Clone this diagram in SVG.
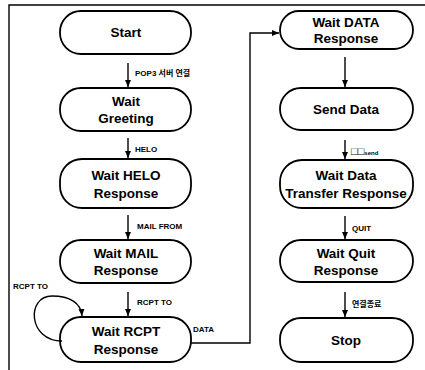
<svg xmlns="http://www.w3.org/2000/svg" width="425" height="370" viewBox="0 0 425 370">
<defs>
<marker id="ah" markerWidth="8" markerHeight="8" refX="7" refY="4" orient="auto" markerUnits="userSpaceOnUse">
<path d="M0,1 L7,4 L0,7 Z" fill="#000"/>
</marker>
<style>
.box{fill:#fff;stroke:#000;stroke-width:1.8}
.t{font-family:"Liberation Sans",Arial,sans-serif;font-weight:bold;font-size:13.5px;text-anchor:middle;fill:#000}
.l{font-family:"Liberation Sans",Arial,"Noto Sans CJK KR",sans-serif;font-weight:bold;font-size:8px;fill:#000}
.c{fill:none;stroke:#000;stroke-width:1.4;marker-end:url(#ah)}
.f{fill:none;stroke:#000;stroke-width:1.4}
</style>
</defs>
<rect width="425" height="370" fill="#fff"/>
<path class="f" d="M9,370 V5 H425"/>

<g id="start"><rect class="box" x="60" y="11" width="131" height="43" rx="21"/><text class="t" x="126" y="37">Start</text></g>
<g id="wait-greeting"><rect class="box" x="60" y="88" width="131" height="43" rx="21"/><text class="t" x="126" y="106">Wait</text><text class="t" x="126" y="123">Greeting</text></g>
<g id="wait-helo"><rect class="box" x="60" y="159" width="131" height="49" rx="22"/><text class="t" x="126" y="180">Wait HELO</text><text class="t" x="126" y="198">Response</text></g>
<g id="wait-mail"><rect class="box" x="60" y="240" width="131" height="43" rx="21"/><text class="t" x="126" y="258">Wait MAIL</text><text class="t" x="126" y="275">Response</text></g>
<g id="wait-rcpt"><rect class="box" x="60" y="317" width="131" height="45" rx="21"/><text class="t" x="126" y="336">Wait RCPT</text><text class="t" x="126" y="354">Response</text></g>

<g id="wait-data"><rect class="box" x="280" y="11" width="133" height="38" rx="19"/><text class="t" x="346" y="27">Wait DATA</text><text class="t" x="346" y="43">Response</text></g>
<g id="send-data"><rect class="box" x="280" y="88" width="133" height="42" rx="21"/><text class="t" x="346" y="114">Send Data</text></g>
<g id="wait-transfer"><rect class="box" x="280" y="160" width="133" height="48" rx="22"/><text class="t" x="346" y="180">Wait Data</text><text class="t" x="346" y="198">Transfer Response</text></g>
<g id="wait-quit"><rect class="box" x="280" y="240" width="133" height="42" rx="21"/><text class="t" x="346" y="258">Wait Quit</text><text class="t" x="346" y="275">Response</text></g>
<g id="stop"><rect class="box" x="280" y="318" width="133" height="44" rx="21"/><text class="t" x="346" y="345">Stop</text></g>

<g id="connectors">
<path class="c" d="M128,63 V87"/>
<path class="c" d="M128,138 V158"/>
<path class="c" d="M128,215 V239"/>
<path class="c" d="M128,292 V316"/>
<path class="c" d="M62,341 C28,341 26,296 52,296 C70,296 81,303 82,316"/>
<path class="c" d="M191,343 H250 V33 H279"/>
<path class="c" d="M345,57 V87"/>
<path class="c" d="M345,140 V159"/>
<path class="c" d="M345,216 V239"/>
<path class="c" d="M345,292 V317"/>
</g>
<g id="labels">
<text class="l" x="135" y="76">POP3 서버 연결</text>
<text class="l" x="135" y="152">HELO</text>
<text class="l" x="137" y="229">MAIL FROM</text>
<text class="l" x="137" y="305">RCPT TO</text>
<text class="l" x="13" y="289">RCPT TO</text>
<text class="l" x="193" y="332">DATA</text>
<text class="l" x="351" y="155"><tspan font-size="11" font-weight="normal">□□</tspan><tspan font-size="6">send</tspan></text>
<text class="l" x="352" y="231">QUIT</text>
<text class="l" x="352" y="307">연결종료</text>
</g>
</svg>
